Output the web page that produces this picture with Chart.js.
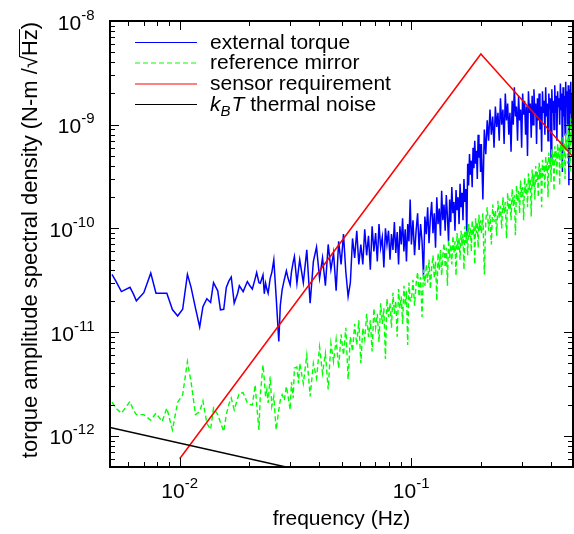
<!DOCTYPE html>
<html>
<head>
<meta charset="utf-8">
<script src="https://cdn.jsdelivr.net/npm/chart.js@4.4.1/dist/chart.umd.min.js"></script>
<style>
html, body { margin: 0; padding: 0; background: #fff; }
canvas { display: block; }
</style>
</head>
<body>
<canvas id="torqueChart" width="574" height="534"></canvas>
<script>
// frequency bins (Hz) shared by both measured spectra
var frequency = [
0.0051,0.0053,0.0056,0.0061,0.0063,0.0065,0.0070,0.0075,0.0079,0.0084,
0.0088,0.0093,0.0098,0.0103,0.0108,0.0112,0.0117,0.0122,0.0126,0.0131,
0.0136,0.0140,0.0146,0.0150,0.0155,0.0159,0.0163,0.0167,0.0172,0.0178,
0.0181,0.0188,0.0196,0.0201,0.0206,0.0212,0.0215,0.0220,0.0223,0.0229,
0.0232,0.0235,0.0238,0.0241,0.0246,0.0250,0.0255,0.0261,0.0268,0.0272,
0.0277,0.0283,0.0289,0.0294,0.0300,0.0304,0.0309,0.0313,0.0321,0.0326,
0.0330,
0.0342,0.0354,0.0366,0.0378,0.0390,0.0402,0.0414,0.0426,0.0438,0.0450,
0.0462,0.0474,0.0486,0.0498,0.0510,0.0522,0.0534,0.0546,0.0558,0.0570,
0.0582,0.0594,0.0606,0.0618,0.0630,0.0642,0.0654,0.0666,0.0678,0.0690,
0.0702,0.0714,0.0726,0.0738,0.0750,0.0762,0.0774,0.0786,0.0798,0.0810,
0.0822,0.0834,0.0846,0.0858,0.0870,0.0882,0.0894,0.0906,0.0918,0.0930,
0.0942,0.0954,0.0966,0.0978,0.0990,
0.1002,0.1018,0.1034,0.1050,0.1066,0.1082,0.1098,0.1114,0.1130,0.1146,
0.1162,0.1178,0.1194,0.1210,0.1226,0.1242,0.1258,0.1274,0.1290,0.1306,
0.1322,0.1338,0.1354,0.1370,0.1386,0.1402,0.1418,0.1434,0.1450,0.1466,
0.1482,0.1498,0.1514,0.1530,0.1546,0.1562,0.1578,0.1594,0.1610,0.1626,
0.1642,0.1658,0.1674,0.1690,0.1706,0.1722,0.1738,0.1754,0.1770,0.1786,
0.1802,0.1818,0.1834,0.1850,0.1866,0.1882,0.1898,0.1914,0.1930,0.1946,
0.1962,0.1978,0.1994,
0.201,0.204,0.207,0.210,0.213,0.216,0.219,0.222,0.225,0.228,
0.231,0.234,0.237,0.240,0.243,0.246,0.249,0.252,0.255,0.258,
0.261,0.264,0.267,0.270,0.273,0.276,0.279,0.282,0.285,0.288,
0.291,0.294,0.297,0.300,0.303,0.306,0.309,0.312,0.315,0.318,
0.321,0.324,0.327,0.330,0.333,0.336,0.339,0.342,0.345,0.348,
0.351,0.354,0.357,0.360,0.363,0.366,0.369,0.372,0.375,0.378,
0.381,0.384,0.387,0.390,0.393,0.396,0.399,0.402,0.405,0.408,
0.411,0.414,0.417,0.420,0.423,0.426,0.429,0.432,0.435,0.438,
0.441,0.444,0.447,0.450,0.453,0.456,0.459,0.462,0.465,0.468,
0.471,0.474,0.477,0.480,0.483,0.486,0.489,0.492,0.495,0.498
];

// amplitudes in pN-m/rtHz (x 1e-12)
var externalTorque = [
36,31,24.6,27,23.5,20,24,37,23.7,23.7,
23.7,16.5,14.3,16.6,36,27,17,11.2,17.6,21,
19.3,30,25,16.4,16.6,27,31,34,19,23.7,
28,24.6,30.7,28,26,33,37.5,30,29.6,35.6,
23.4,29.6,26,23.7,33,37.5,49.7,22,8.1,18,
25.5,32,39,33,28.5,38,47,53.5,29.6,40,
50,
30,62,19,48,66,33,52,28,70,40,
58,25,75,45,88,38,22,30,80,52,
95,45,70,45,98,55,85,40,105,60,
90,48,110,65,82,42,100,70,95,50,
88,62,115,58,92,45,105,70,125,60,
98,48,110,75,190,
70,120,55,95,140,62,110,75,35,130,
88,160,72,125,180,90,140,65,200,110,
155,85,230,120,170,95,210,130,75,190,
115,250,140,180,95,235,150,200,110,270,
160,220,120,300,180,240,85,420,260,520,
330,450,250,600,380,700,420,560,300,800,
480,650,350,
650,190,900,520,1100,700,1400,800,1200,600,
1500,950,1300,700,1800,1000,1400,650,2000,1100,
1600,800,1300,550,1700,1000,2300,1200,1500,700,
1900,1100,1400,600,2000,1250,1700,800,1500,500,
2100,1300,1600,750,1900,1000,2200,1300,1600,650,
1800,1100,2000,900,1500,550,2100,1300,1700,800,
2300,1200,1600,700,2000,1400,1800,450,2200,1300,
1700,900,2400,1300,1900,700,2100,1500,1800,1000,
2500,1400,2000,350,2300,1200,1900,800,2600,1500,
2100,1000,2400,260,2200,1300,2600,900,2000,1400
];

var referenceMirror = [
2.11,1.85,1.65,2.14,1.78,1.6,1.6,1.41,1.65,1.37,
1.85,1.14,2.1,2.48,5.2,3.3,1.6,1.71,2.17,1.32,
1.15,1.85,1.6,1.35,1.1,1.6,2.0,2.31,1.78,2.3,
2.58,2.6,2.07,2.0,1.98,3.1,2.0,1.14,2.5,4.83,
3.5,2.4,2.8,2.07,3.73,1.93,2.4,1.14,1.78,2.2,
2.5,2.2,3.0,2.4,1.78,3.3,2.3,4.5,4.6,3.2,
5.0,
3.2,6.0,2.4,5.0,3.6,7.2,4.0,6.2,2.8,7.8,
5.2,8.5,4.5,9.5,6.0,11,3.5,9.0,6.5,12,
7.5,13,5.0,11,8.5,15,9.0,13,6.5,17,
11,15,8.0,19,12,17,5.5,21,14,19,
11,24,15,20,9.0,26,17,22,12,28,
18,25,7.5,30,20,
20,32,18,29,38,22,34,14,40,28,
45,30,50,26,42,55,33,48,20,58,
40,62,35,55,72,42,65,28,78,52,
70,45,85,58,75,35,90,62,82,50,
95,68,88,40,105,72,95,55,110,80,
100,60,120,85,105,45,125,90,115,65,
135,95,120,
90,140,36,120,160,95,135,70,170,115,
150,85,185,125,165,100,200,140,180,80,
220,150,195,120,240,165,210,86,260,180,
230,140,290,200,250,120,310,215,270,160,
340,235,300,130,370,255,330,190,400,280,
350,200,430,300,380,160,460,320,410,240,
500,350,440,200,540,380,480,280,580,400,
520,230,620,440,560,320,660,470,600,260,
700,500,640,380,760,540,680,300,820,580,
720,420,1000,620,780,350,1150,660,950,500
];

var requirementFreq = [0.01, 0.2, 0.5];
var requirementLevel = [6.0e-13, 4.8e-9, 4.9e-10];

var thermalFreq = [0.005, 0.5];
var thermalLevel = [1.2e-12, 1.2e-13];

// decade tick labels, written as 10^exp
var xTickExponents = [-2, -1];
var yTickExponents = [-12, -11, -10, -9, -8];

var FONT = '"Liberation Sans", Arial, Helvetica, sans-serif';

function toPoints(xs, ys, unit) {
    var pts = [];
    for (var i = 0; i < xs.length; i++) pts.push({ x: xs[i], y: ys[i] * unit });
    return pts;
}

function drawPower(ctx, exp, x, y, align) {
    ctx.font = '21px ' + FONT;
    var w1 = ctx.measureText('10').width;
    ctx.font = '15px ' + FONT;
    var w2 = ctx.measureText(String(exp)).width;
    var start = align === 'right' ? x - w1 - w2 : x - (w1 + w2) / 2;
    ctx.textAlign = 'left';
    ctx.textBaseline = 'alphabetic';
    ctx.font = '21px ' + FONT;
    ctx.fillText('10', start, y);
    ctx.font = '15px ' + FONT;
    ctx.fillText(String(exp), start + w1, y - 10);
}

var framePlugin = {
    id: 'gnuplotFrame',
    afterDatasetsDraw: function(chart) {
        var ctx = chart.ctx, a = chart.chartArea;
        var xs = chart.scales.x, ys = chart.scales.y;
        ctx.save();
        ctx.strokeStyle = '#000';
        ctx.fillStyle = '#000';

        // ticks, inward on all four sides
        ctx.lineWidth = 1;
        ctx.beginPath();
        for (var d = -3; d <= 0; d++) {
            for (var m = 1; m <= 9; m++) {
                var v = m * Math.pow(10, d);
                if (v < xs.min * 0.999 || v > xs.max * 1.001) continue;
                var px = Math.round(xs.getPixelForValue(v)) + 0.5;
                var len = m === 1 ? 9 : 5;
                ctx.moveTo(px, a.bottom); ctx.lineTo(px, a.bottom - len);
                ctx.moveTo(px, a.top); ctx.lineTo(px, a.top + len);
            }
        }
        for (var e = -13; e <= -8; e++) {
            for (var k = 1; k <= 9; k++) {
                var val = k * Math.pow(10, e);
                if (val < ys.min * 0.999 || val > ys.max * 1.001) continue;
                var py = Math.round(ys.getPixelForValue(val)) + 0.5;
                var l2 = k === 1 ? 9 : 5;
                ctx.moveTo(a.left, py); ctx.lineTo(a.left + l2, py);
                ctx.moveTo(a.right, py); ctx.lineTo(a.right - l2, py);
            }
        }
        ctx.stroke();

        // border
        ctx.lineWidth = 2;
        ctx.strokeRect(a.left, a.top, a.right - a.left, a.bottom - a.top);

        // tick labels
        xTickExponents.forEach(function(p) {
            drawPower(ctx, p, xs.getPixelForValue(Math.pow(10, p)), 498, 'center');
        });
        yTickExponents.forEach(function(p) {
            drawPower(ctx, p, 94.5, ys.getPixelForValue(Math.pow(10, p)) + 8.5, 'right');
        });

        // axis titles
        ctx.font = '21px ' + FONT;
        ctx.textAlign = 'center';
        ctx.textBaseline = 'alphabetic';
        ctx.fillText('frequency (Hz)', (a.left + a.right) / 2, 525);

        ctx.save();
        ctx.translate(37, 240);
        ctx.rotate(-Math.PI / 2);
        ctx.font = '22px ' + FONT;
        ctx.textAlign = 'left';
        var pre = 'torque amplitude spectral density (N-m /\u221A';
        var full = pre + 'Hz)';
        var w = ctx.measureText(full).width;
        var x0 = -w / 2;
        ctx.fillText(full, x0, 0);
        var wPre = ctx.measureText(pre).width;
        var wHz = ctx.measureText('Hz').width;
        ctx.lineWidth = 1;
        ctx.beginPath();
        ctx.moveTo(x0 + wPre - 1, -17.5);
        ctx.lineTo(x0 + wPre + wHz, -17.5);
        ctx.stroke();
        ctx.restore();

        // legend
        var rowY = [42, 62.5, 83.5, 104];
        chart.data.datasets.forEach(function(ds, i) {
            var y = rowY[i];
            ctx.save();
            ctx.strokeStyle = ds.borderColor;
            ctx.lineWidth = 1;
            ctx.setLineDash(ds.borderDash || []);
            ctx.beginPath();
            ctx.moveTo(135, y + 0.5);
            ctx.lineTo(197, y + 0.5);
            ctx.stroke();
            ctx.restore();
            ctx.textAlign = 'left';
            if (i < 3) {
                ctx.font = '21px ' + FONT;
                ctx.fillText(ds.label, 210, y + 6.5);
            } else {
                var tx = 210;
                ctx.font = 'italic 21px ' + FONT;
                ctx.fillText('k', tx, y + 6.5);
                tx += ctx.measureText('k').width;
                ctx.font = 'italic 15px ' + FONT;
                ctx.fillText('B', tx, y + 11.5);
                tx += ctx.measureText('B').width + 1;
                ctx.font = 'italic 21px ' + FONT;
                ctx.fillText('T', tx, y + 6.5);
                tx += ctx.measureText('T').width;
                ctx.font = '21px ' + FONT;
                ctx.fillText(' thermal noise', tx, y + 6.5);
            }
        });
        ctx.restore();
    }
};

var ctx = document.getElementById('torqueChart').getContext('2d');
var torqueChart = new Chart(ctx, {
    type: 'line',
    data: {
        datasets: [{
            label: 'external torque',
            data: toPoints(frequency, externalTorque, 1e-12),
            borderColor: '#0000ff',
            borderWidth: 1.5,
            order: 4
        }, {
            label: 'reference mirror',
            data: toPoints(frequency, referenceMirror, 1e-12),
            borderColor: '#00ff00',
            borderWidth: 1.4,
            borderDash: [5, 3],
            order: 3
        }, {
            label: 'sensor requirement',
            data: toPoints(requirementFreq, requirementLevel, 1),
            borderColor: '#ff0000',
            borderWidth: 1.5,
            order: 2
        }, {
            label: 'kBT thermal noise',
            data: toPoints(thermalFreq, thermalLevel, 1),
            borderColor: '#000000',
            borderWidth: 1.5,
            order: 1
        }]
    },
    options: {
        responsive: false,
        animation: false,
        devicePixelRatio: 1,
        elements: { point: { radius: 0 }, line: { tension: 0 } },
        layout: { padding: { left: 110, right: 1, top: 21, bottom: 67 } },
        plugins: { legend: { display: false }, tooltip: { enabled: false } },
        scales: {
            x: { type: 'logarithmic', min: 0.005, max: 0.5, display: false },
            y: { type: 'logarithmic', min: 5e-13, max: 1e-8, display: false }
        }
    },
    plugins: [framePlugin]
});
</script>
</body>
</html>
